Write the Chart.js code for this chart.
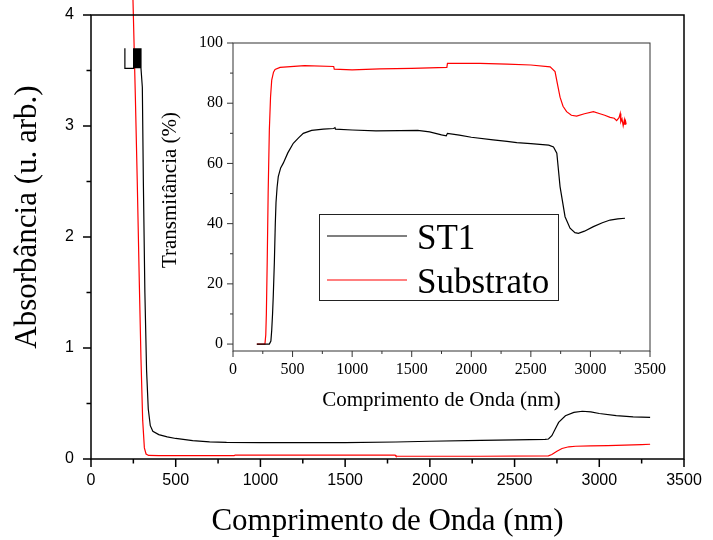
<!DOCTYPE html>
<html>
<head>
<meta charset="utf-8">
<script src="https://cdn.jsdelivr.net/npm/chart.js@4.4.1/dist/chart.umd.min.js"></script>
<style>
  body { margin: 0; background: #fff; }
  #wrap { position: relative; width: 713px; height: 540px; }
  #absChart { position: absolute; left: 0; top: 0; }
  #transChart { position: absolute; left: 150px; top: 25px; }
</style>
</head>
<body>
<div id="wrap">
  <canvas id="absChart" width="713" height="540"></canvas>
  <canvas id="transChart" width="520" height="395"></canvas>
</div>
<script>
const seriesNames = ['ST1', 'Substrato'];
const nmTicks = [0, 500, 1000, 1500, 2000, 2500, 3000, 3500];
const absTicks = [0, 1, 2, 3, 4];
const transTicks = [0, 20, 40, 60, 80, 100];

// absorbance - ST1 film (noisy detector switch region at the start)
const absST1Nm = [200, 200, 248, 250, 253, 256, 259, 262, 265, 268, 271, 274, 277, 280, 283, 286, 289, 292, 295,
  303, 309, 318, 328, 338, 350, 365, 400, 450, 500, 600, 700, 800, 1000, 1500, 1800, 2000, 2300, 2500,
  2680, 2700, 2720, 2740, 2760, 2800, 2850, 2900, 2950, 3000, 3100, 3200, 3300];
const absST1 = [3.70, 3.52, 3.52, 3.70, 3.52, 3.70, 3.52, 3.70, 3.52, 3.70, 3.52, 3.70, 3.52, 3.70, 3.52, 3.70, 3.52, 3.70, 3.52,
  3.35, 2.50, 1.50, 0.80, 0.45, 0.30, 0.25, 0.22, 0.20, 0.185, 0.165, 0.155, 0.15, 0.147, 0.148, 0.153, 0.16, 0.168, 0.172,
  0.177, 0.18, 0.21, 0.27, 0.33, 0.39, 0.42, 0.43, 0.425, 0.41, 0.39, 0.38, 0.375];

// absorbance - bare substrate (runs off the top of the axis)
const absSubNm = [240, 250, 262, 273, 285, 295, 305, 315, 325, 340, 400, 600, 845, 850, 1200, 1795, 1800, 2300,
  2700, 2720, 2750, 2780, 2820, 2860, 2950, 3050, 3150, 3250, 3300];
const absSub = [4.60, 4.00, 3.25, 2.50, 1.60, 0.90, 0.35, 0.10, 0.045, 0.032, 0.03, 0.03, 0.03, 0.035, 0.035, 0.035, 0.025, 0.025,
  0.028, 0.04, 0.07, 0.095, 0.11, 0.115, 0.118, 0.12, 0.125, 0.13, 0.133];

// transmittance - ST1 film
const transST1Nm = [200, 305, 318, 325, 332, 338, 347, 355, 361, 370, 380, 400, 422, 460, 506, 550, 590, 660, 758, 845,
  856, 860, 1000, 1200, 1400, 1550, 1650, 1750, 1790, 1800, 1900, 2000, 2183, 2300, 2382, 2500, 2650, 2690, 2718, 2745,
  2787, 2829, 2870, 2899, 2950, 3025, 3100, 3165, 3230, 3290];
const transST1 = [0, 0, 1, 4.6, 10, 16, 27, 40, 47, 52, 55.6, 58.5, 60.1, 63.5, 66.7, 68.5, 70, 71, 71.4, 71.6,
  71.9, 71.4, 71.1, 70.8, 70.9, 71, 70.5, 69.5, 69.2, 70, 69.4, 68.7, 67.8, 67.3, 66.9, 66.6, 66.1, 65.5, 63.4, 52.3,
  42.3, 38.5, 37, 36.8, 37.5, 39, 40.3, 41.2, 41.6, 41.8];

// transmittance - bare substrate
const transSubNm = [200, 268, 275, 280, 287, 295, 305, 315, 325, 340, 353, 395, 600, 845, 850, 1000, 1233, 1500, 1795, 1800,
  2073, 2300, 2500, 2662, 2703, 2725, 2745, 2770, 2800, 2840, 2884, 2950, 3025, 3080, 3120, 3165, 3200, 3220, 3240, 3250,
  3255, 3265, 3275, 3285, 3290, 3295, 3300];
const transSub = [0, 0, 3, 10, 27, 50, 71, 82, 87.7, 90.3, 91.2, 91.9, 92.5, 92.2, 91.3, 91.1, 91.4, 91.6, 91.9, 93.2,
  93.2, 93, 92.7, 92.1, 90.5, 86, 82, 79, 77.2, 76, 75.7, 76.5, 77.2, 76.5, 76, 75.3, 75, 74.2, 75.2, 76.6,
  73.8, 74.8, 72.5, 74.5, 72.8, 74, 73];

const toPoints = (xs, ys) => xs.map((x, i) => ({ x, y: ys[i] }));
const serif = 'Liberation Serif, Times New Roman, serif';
const sans = 'Liberation Sans, Arial, sans-serif';

/* box around the plot + outward major/minor ticks */
const axisFrame = {
  id: 'axisFrame',
  afterDraw(chart, args, o) {
    const { ctx, chartArea: a, scales: { x, y } } = chart;
    ctx.save();
    ctx.strokeStyle = o.color;
    ctx.lineWidth = o.width;
    ctx.strokeRect(a.left, a.top, a.right - a.left, a.bottom - a.top);
    ctx.beginPath();
    for (let i = 0; ; i++) {
      const v = o.xFrom + i * o.xMinor;
      if (v > x.max + 1e-9) break;
      const px = x.getPixelForValue(v);
      ctx.moveTo(px, a.bottom);
      ctx.lineTo(px, a.bottom + (i % 2 === 0 ? o.major : o.minor));
    }
    for (let i = 0; ; i++) {
      const v = o.yFrom + i * o.yMinor;
      if (v > y.max + 1e-9) break;
      const py = y.getPixelForValue(v);
      ctx.moveTo(a.left, py);
      ctx.lineTo(a.left - (i % 2 === 0 ? o.major : o.minor), py);
    }
    ctx.stroke();
    ctx.restore();
  }
};

/* rotated y title, placed freely */
const sideTitle = {
  id: 'sideTitle',
  afterDraw(chart, args, o) {
    const ctx = chart.ctx;
    ctx.save();
    ctx.translate(o.x, o.y);
    ctx.rotate(-Math.PI / 2);
    ctx.font = o.font;
    ctx.fillStyle = '#000';
    ctx.textAlign = 'center';
    ctx.textBaseline = 'middle';
    ctx.fillText(o.text, 0, 0);
    ctx.restore();
  }
};

/* boxed legend inside the inset */
const boxLegend = {
  id: 'boxLegend',
  afterDraw(chart, args, o) {
    if (!o.show) return;
    const ctx = chart.ctx;
    ctx.save();
    ctx.fillStyle = '#fff';
    ctx.fillRect(o.left, o.top, o.width, o.height);
    ctx.strokeStyle = '#222';
    ctx.lineWidth = 1;
    ctx.strokeRect(o.left + 0.5, o.top + 0.5, o.width, o.height);
    ctx.font = o.font;
    ctx.textBaseline = 'alphabetic';
    ctx.fillStyle = '#000';
    chart.data.datasets.forEach((ds, i) => {
      const ly = o.top + o.firstRow + i * o.rowGap;
      ctx.strokeStyle = ds.borderColor;
      ctx.lineWidth = 1.2;
      ctx.beginPath();
      ctx.moveTo(o.left + 8, ly);
      ctx.lineTo(o.left + 88, ly);
      ctx.stroke();
      ctx.fillText(ds.label, o.left + 98, ly + 13);
    });
    ctx.restore();
  }
};

// invisible tick marks only reserve space; the visible ones come from axisFrame
const spacerGrid = gap => ({
  display: true, drawOnChartArea: false, drawTicks: true, tickLength: gap, tickColor: 'rgba(0,0,0,0)'
});

function xAxis(tickFont, tickGap, titleText, titleFont, titlePad, height) {
  return {
    type: 'linear', min: 0, max: 3500,
    afterBuildTicks: s => { s.ticks = nmTicks.map(v => ({ value: v })); },
    afterFit: s => { s.height = height; },
    grid: spacerGrid(tickGap),
    border: { display: false },
    ticks: { font: tickFont, color: '#000', padding: 3, maxRotation: 0, autoSkip: false, callback: v => String(v) },
    title: { display: true, text: titleText, font: titleFont, color: '#000', padding: { top: 0, bottom: titlePad } }
  };
}

new Chart(document.getElementById('absChart'), {
  type: 'line',
  data: {
    datasets: [
      { label: seriesNames[0], data: toPoints(absST1Nm, absST1), borderColor: '#000000', borderWidth: 1.2 },
      { label: seriesNames[1], data: toPoints(absSubNm, absSub), borderColor: '#ff0000', borderWidth: 1.2, clip: false }
    ]
  },
  options: {
    responsive: false,
    animation: false,
    layout: { padding: { left: 0, right: 29, top: 15, bottom: 0 } },
    elements: { point: { radius: 0 }, line: { tension: 0 } },
    scales: {
      x: xAxis({ family: sans, size: 16 }, 9, 'Comprimento de Onda (nm)', { family: serif, size: 31 }, 0, 81),
      y: {
        type: 'linear', min: 0, max: 4,
        afterBuildTicks: s => { s.ticks = absTicks.map(v => ({ value: v })); },
        afterFit: s => { s.width = 91; },
        grid: spacerGrid(14),
        border: { display: false },
        ticks: { font: { family: sans, size: 16 }, color: '#000', padding: 3, callback: v => String(v) }
      }
    },
    plugins: {
      legend: { display: false },
      tooltip: { enabled: false },
      axisFrame: { color: '#000', width: 1.5, major: 8, minor: 4.5, xFrom: 0, xMinor: 250, yFrom: 0, yMinor: 0.5 },
      sideTitle: { text: 'Absorbância (u. arb.)', x: 28, y: 217, font: '31px ' + serif },
      boxLegend: { show: false }
    }
  },
  plugins: [axisFrame, sideTitle, boxLegend]
});

new Chart(document.getElementById('transChart'), {
  type: 'line',
  data: {
    datasets: [
      { label: seriesNames[0], data: toPoints(transST1Nm, transST1), borderColor: '#000000', borderWidth: 1.2 },
      { label: seriesNames[1], data: toPoints(transSubNm, transSub), borderColor: '#ff0000', borderWidth: 1.2 }
    ]
  },
  options: {
    responsive: false,
    animation: false,
    layout: { padding: { left: 0, right: 20, top: 18, bottom: 0 } },
    elements: { point: { radius: 0 }, line: { tension: 0 } },
    scales: {
      x: xAxis({ family: serif, size: 16 }, 6, 'Comprimento de Onda (nm)', { family: serif, size: 21 }, 7, 69),
      y: {
        type: 'linear', min: -2.3, max: 100,
        afterBuildTicks: s => { s.ticks = transTicks.map(v => ({ value: v })); },
        afterFit: s => { s.width = 83; },
        grid: spacerGrid(7),
        border: { display: false },
        ticks: { font: { family: serif, size: 16 }, color: '#000', padding: 3, callback: v => String(v) }
      }
    },
    plugins: {
      legend: { display: false },
      tooltip: { enabled: false },
      axisFrame: { color: '#333', width: 1, major: 6, minor: 3, xFrom: 0, xMinor: 250, yFrom: 0, yMinor: 10 },
      sideTitle: { text: 'Transmitância (%)', x: 20, y: 165, font: '21px ' + serif },
      boxLegend: { show: true, left: 169, top: 189, width: 239, height: 86, firstRow: 22, rowGap: 44, font: '35px ' + serif }
    }
  },
  plugins: [axisFrame, sideTitle, boxLegend]
});
</script>
</body>
</html>
